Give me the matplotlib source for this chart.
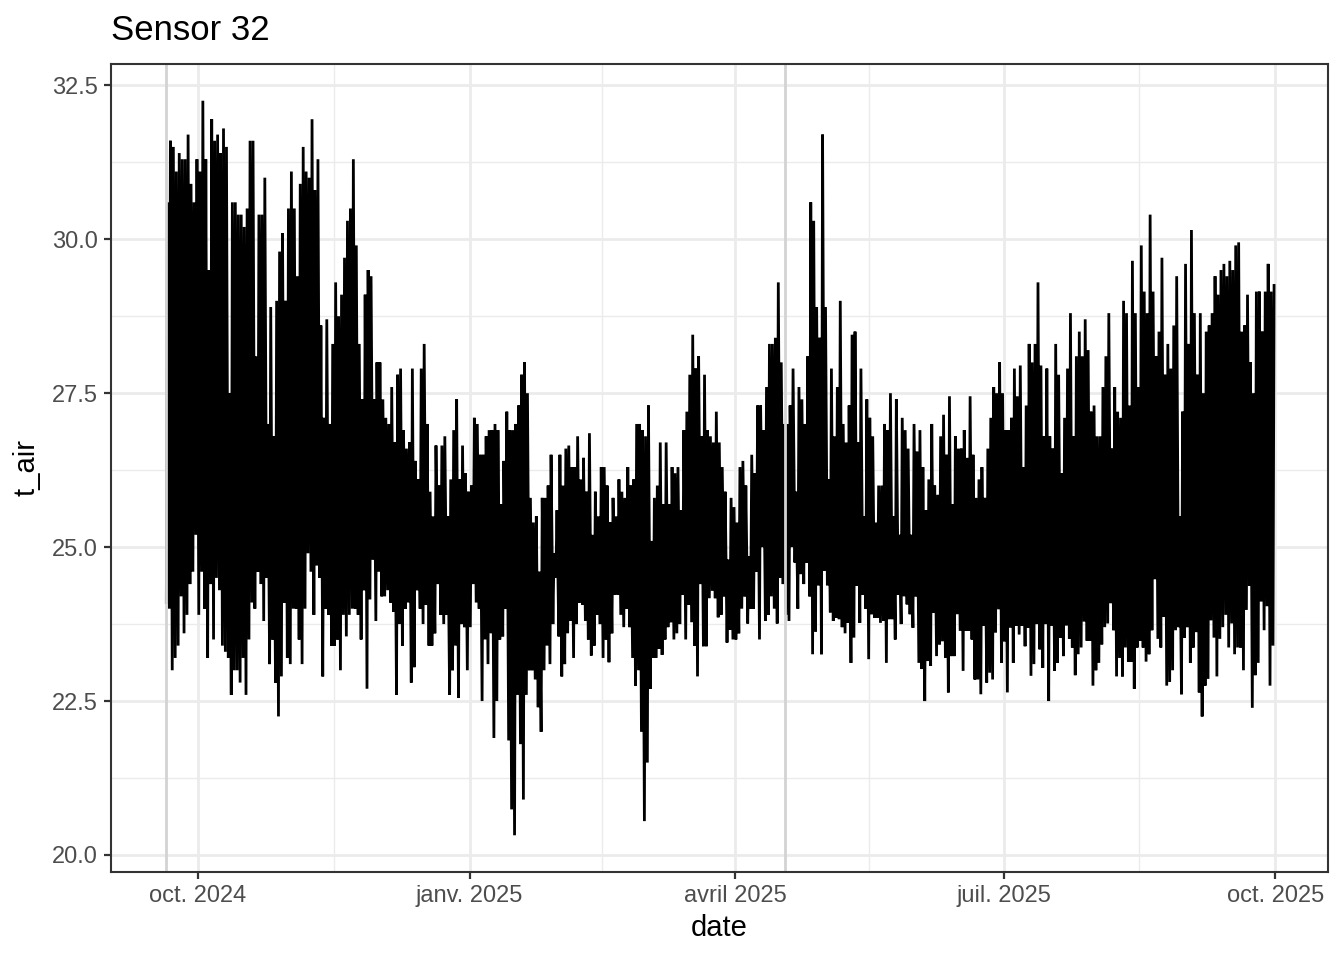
import numpy as np
import matplotlib
matplotlib.use("Agg")
import matplotlib.pyplot as plt
import matplotlib.dates as mdates
from datetime import datetime

plt.rcParams['font.family'] = ['Liberation Sans', 'DejaVu Sans']

# ---------------- data ----------------
start_date = "2024-09-20"

# daily maximum of t_air (one value per day, from 2024-09-20)
day_max = [
    30.6, 31.6, 31.5, 31.1, 31.4, 31.3, 31.3, 31.7, 30.9, 30.6,
    31.3, 31.1, 32.25, 31.3, 29.5, 31.95, 31.6, 31.7, 31.4, 31.8,
    31.5, 27.5, 30.6, 30.6, 30.4, 30.4, 30.2, 30.5, 31.6, 31.6,
    28.1, 30.4, 30.4, 31.0, 27.0, 28.9, 26.8, 29.0, 29.8, 30.1,
    29.0, 30.5, 31.1, 30.5, 29.4, 30.9, 31.5, 31.1, 31.0, 31.95,
    30.8, 31.3, 28.6, 27.1, 28.7, 27.0, 28.3, 29.3, 28.75, 29.1,
    29.7, 30.3, 30.5, 31.3, 29.9, 28.3, 27.4, 29.1, 29.5, 29.4,
    27.4, 28.0, 28.0, 27.4, 27.1, 27.0, 27.6, 26.7, 27.8, 27.9,
    26.9, 26.6, 26.7, 27.9, 26.4, 26.1, 27.9, 28.3, 27.0, 25.9,
    25.5, 26.65, 26.0, 26.65, 26.8, 25.5, 26.1, 26.9, 27.4, 26.1,
    26.65, 26.2, 25.9, 26.0, 27.1, 27.0, 26.5, 26.5, 26.8, 26.9,
    26.9, 27.0, 26.9, 25.7, 26.4, 27.2, 26.9, 26.9, 27.0, 27.3,
    27.8, 28.0, 27.5, 25.8, 25.4, 25.5, 24.6, 25.8, 25.8, 26.0,
    26.5, 24.9, 25.6, 26.5, 26.0, 26.6, 26.65, 26.3, 26.3, 26.8,
    26.1, 26.45, 25.9, 26.85, 25.2, 25.9, 25.5, 26.3, 26.3, 26.0,
    25.4, 25.8, 25.5, 26.1, 25.9, 25.8, 26.3, 26.0, 26.1, 27.0,
    27.0, 26.9, 26.8, 27.3, 25.1, 25.8, 26.0, 26.7, 25.7, 26.7,
    25.7, 26.3, 26.2, 26.3, 25.6, 26.9, 27.2, 27.8, 28.45, 27.9,
    28.1, 26.8, 27.8, 26.9, 26.8, 26.7, 27.2, 26.7, 26.3, 25.9,
    24.8, 25.8, 25.65, 25.4, 26.3, 26.4, 26.0, 24.85, 26.5, 26.2,
    27.3, 27.3, 26.9, 27.6, 28.3, 28.3, 28.4, 29.3, 28.0, 27.0,
    27.0, 27.3, 27.9, 25.9, 27.6, 27.4, 27.0, 28.1, 30.6, 30.3,
    28.9, 28.4, 31.7, 28.9, 26.1, 27.9, 26.8, 27.6, 29.0, 27.0,
    26.7, 27.3, 28.45, 28.5, 26.7, 27.9, 25.5, 27.4, 27.1, 26.8,
    25.4, 26.0, 26.0, 27.0, 26.9, 27.5, 25.5, 27.4, 25.2, 27.1,
    26.9, 26.6, 25.2, 27.0, 26.55, 26.9, 26.3, 25.6, 26.1, 27.0,
    26.0, 25.85, 26.8, 27.15, 26.5, 27.45, 25.7, 26.8, 26.6, 26.6,
    26.9, 26.45, 27.45, 26.5, 25.8, 26.1, 26.3, 25.8, 26.6, 27.1,
    27.6, 27.5, 28.0, 27.5, 26.9, 26.9, 27.1, 27.9, 27.45, 27.95,
    26.3, 27.3, 28.3, 28.0, 28.3, 29.3, 27.95, 26.8, 27.9, 26.8,
    26.6, 28.3, 27.8, 26.2, 27.1, 27.9, 28.8, 26.8, 28.1, 28.5,
    28.1, 28.7, 28.2, 27.2, 27.3, 26.8, 26.8, 27.6, 28.1, 28.8,
    26.6, 27.6, 27.2, 27.1, 29.0, 28.8, 27.3, 29.65, 28.8, 27.6,
    29.9, 29.15, 28.8, 30.4, 29.15, 28.1, 28.5, 29.7, 27.8, 28.3,
    27.9, 28.6, 29.4, 25.5, 27.2, 29.6, 28.3, 30.15, 28.8, 27.8,
    28.8, 27.5, 28.5, 28.6, 28.8, 29.4, 29.1, 29.5, 29.6, 29.4,
    29.65, 29.5, 29.9, 29.95, 28.5, 28.6, 29.1, 28.0, 27.5, 29.15,
    29.15, 28.5, 29.15, 29.6, 29.15, 29.25,
]

# daily minimum of t_air (one value per day, from 2024-09-20)
day_min = [
    24.1, 24.0, 23.0, 23.2, 23.4, 24.2, 23.6, 23.9, 24.4, 24.6,
    25.2, 23.9, 24.6, 24.0, 23.2, 24.4, 23.5, 24.5, 24.3, 23.4,
    23.3, 23.2, 22.6, 23.0, 23.0, 22.8, 23.2, 22.6, 23.5, 24.1,
    24.0, 24.6, 24.4, 23.8, 24.5, 23.1, 23.5, 22.8, 22.25, 22.9,
    24.1, 23.2, 23.1, 24.0, 24.0, 23.5, 23.1, 24.0, 24.9, 24.6,
    23.9, 24.7, 24.5, 22.9, 24.0, 23.9, 23.4, 23.4, 23.5, 23.0,
    23.9, 23.55, 23.9, 24.0, 24.0, 23.9, 23.5, 24.3, 22.7, 24.15,
    24.8, 23.8, 24.6, 24.2, 24.2, 24.3, 24.1, 23.95, 22.6, 23.75,
    23.4, 24.0, 24.1, 22.8, 23.05, 24.3, 24.0, 23.75, 24.06, 23.4,
    23.4, 23.6, 24.4, 23.9, 23.75, 23.9, 22.6, 23.0, 23.4, 22.55,
    23.75, 23.7, 23.0, 23.7, 24.4, 24.1, 24.0, 22.5, 23.5, 23.1,
    23.6, 21.9, 22.5, 23.5, 23.55, 24.0, 21.86, 20.74, 20.32, 22.6,
    21.8, 20.9, 22.6, 23.0, 23.0, 22.85, 22.4, 22.0, 23.0, 23.4,
    23.1, 23.75, 24.5, 23.55, 22.9, 23.1, 23.6, 23.8, 23.2, 23.75,
    24.1, 24.06, 23.8, 23.5, 23.24, 23.4, 23.9, 23.75, 23.2, 23.5,
    23.13, 23.6, 24.23, 24.23, 23.9, 23.7, 24.0, 23.7, 23.2, 22.75,
    23.0, 22.0, 20.55, 21.5, 22.7, 23.2, 23.2, 23.35, 23.25, 23.5,
    23.7, 23.78, 23.5, 23.6, 23.75, 24.23, 23.5, 24.06, 23.78, 23.4,
    22.9, 24.4, 23.39, 23.39, 24.17, 24.29, 24.17, 23.86, 23.9, 24.2,
    23.45, 23.66, 23.5, 23.5, 23.6, 24.0, 24.2, 23.76, 24.0, 24.0,
    24.6, 23.5, 25.0, 23.8, 23.9, 24.2, 24.0, 23.76, 24.5, 24.4,
    23.9, 23.8, 25.0, 24.75, 24.0, 24.56, 24.4, 24.75, 24.2, 23.26,
    23.63, 24.38, 23.26, 24.62, 24.38, 23.94, 23.8, 23.85, 23.83, 23.7,
    23.6, 23.77, 23.12, 23.53, 24.37, 23.77, 24.23, 24.0, 23.18, 23.91,
    23.85, 23.85, 23.77, 23.8, 23.12, 23.83, 23.83, 23.5, 24.23, 23.75,
    24.2, 24.07, 23.91, 23.69, 24.2, 23.12, 23.02, 22.5, 23.15, 23.07,
    23.93, 23.23, 23.42, 23.47, 23.2, 22.64, 23.23, 23.23, 23.91, 23.64,
    22.99, 23.64, 23.64, 23.5, 22.85, 22.85, 22.61, 23.72, 22.8, 22.96,
    22.85, 23.61, 23.99, 23.12, 23.47, 22.64, 23.69, 23.12, 23.72, 23.58,
    23.72, 23.39, 23.69, 22.91, 23.1, 23.75, 23.34, 23.04, 23.75, 22.5,
    23.72, 22.99, 23.12, 23.53, 23.23, 23.73, 23.51, 23.37, 22.92, 23.26,
    23.37, 23.79, 23.48, 23.48, 22.75, 23.0, 23.12, 23.42, 23.7, 23.76,
    24.09, 23.65, 22.9, 23.2, 22.9, 23.37, 23.14, 23.14, 22.7, 23.37,
    23.48, 23.37, 23.14, 23.26, 23.65, 24.48, 23.51, 23.37, 23.87, 22.75,
    22.81, 23.0, 23.65, 23.7, 22.61, 23.53, 23.7, 23.12, 23.37, 23.62,
    22.64, 22.25, 22.75, 22.86, 23.81, 23.53, 22.9, 23.51, 23.7, 23.9,
    23.37, 23.76, 23.26, 23.37, 23.37, 23.0, 23.98, 24.37, 22.39, 22.92,
    23.12, 24.12, 23.65, 24.04, 22.75, 23.4,
]

vline_dates = ["2024-09-20", "2025-04-18"]
tick_dates = ["2024-10-01", "2025-01-01", "2025-04-01", "2025-07-01", "2025-10-01"]
tick_labels = ["oct. 2024", "janv. 2025", "avril 2025", "juil. 2025", "oct. 2025"]
y_ticks = [20.0, 22.5, 25.0, 27.5, 30.0, 32.5]
title = "Sensor 32"
x_label = "date"
y_label = "t_air"

# ---------------- build series ----------------
def dnum(s):
    return mdates.date2num(datetime.strptime(s, "%Y-%m-%d"))

t0 = dnum(start_date)
n = min(len(day_max), len(day_min))
days = np.arange(n)
t = np.empty(2 * n)
y = np.empty(2 * n)
t[0::2] = t0 + days + 0.25      # early-morning minimum
t[1::2] = t0 + days + 0.625     # afternoon maximum
y[0::2] = np.array(day_min[:n])
y[1::2] = np.array(day_max[:n])

# ---------------- figure ----------------
W, H = 1344, 960
fig = plt.figure(figsize=(W / 100, H / 100), dpi=100)
L, R, T, B = 111, 1328, 64, 872
ax = fig.add_axes([L / W, 1 - B / H, (R - L) / W, (B - T) / H])

ax.plot(t, y, color="black", lw=2.0, solid_joinstyle="miter", zorder=3)
for d in vline_dates:
    ax.axvline(dnum(d), color="#D3D3D3", lw=2.0, zorder=4)

# x range as in the reference panel (padding around the data period)
ax.set_xlim(t0 - 18.5, t0 + 393.9)
yr = y.max() - y.min()
ax.set_ylim(y.min() - 0.05 * yr, y.max() + 0.05 * yr)

xt = [dnum(d) for d in tick_dates]
ax.set_xticks(xt)
ax.set_xticklabels(tick_labels)
ax.set_xticks([(a + b) / 2 for a, b in zip(xt[:-1], xt[1:])], minor=True)
ax.set_yticks(y_ticks)
ax.set_yticklabels([f"{v:.1f}" for v in y_ticks])
ax.set_yticks([v + 1.25 for v in y_ticks[:-1]], minor=True)

ax.set_axisbelow(True)
ax.grid(which="major", color="#EBEBEB", lw=2.0)
ax.grid(which="minor", color="#EBEBEB", lw=1.0)

for s in ax.spines.values():
    s.set_color("#333333")
    s.set_linewidth(1.5)
    s.set_zorder(5)

ax.tick_params(which="major", length=5.3, width=1.6, color="#333333",
               labelcolor="#4D4D4D", labelsize=17, pad=4.0)
ax.tick_params(which="minor", length=0)

ax.set_xlabel(x_label, fontsize=21, color="black", labelpad=5)
ax.set_ylabel(y_label, fontsize=21, color="black", labelpad=8)

fig.text(L / W, 1 - 40 / H, title, fontsize=25, ha="left", va="baseline",
         color="black")

fig.savefig("out.png", dpi=100, facecolor="white")
